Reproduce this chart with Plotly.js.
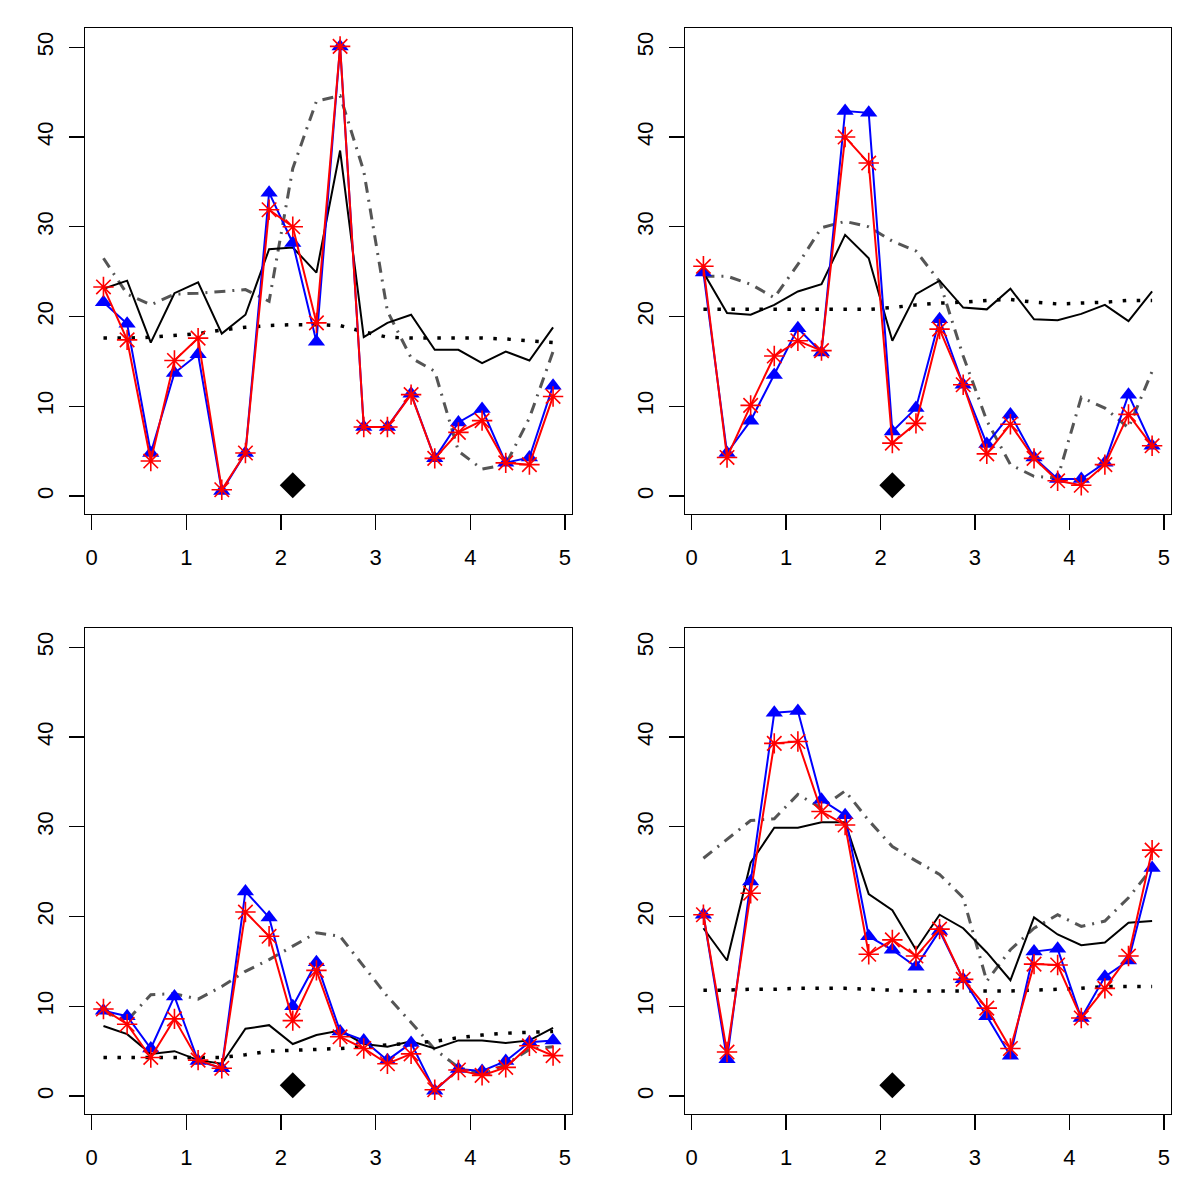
<!DOCTYPE html>
<html>
<head>
<meta charset="utf-8">
<script src="https://cdn.plot.ly/plotly-3.0.1.min.js"></script>
<style>html,body{margin:0;padding:0;background:#fff;}#chart{width:1200px;height:1200px;}</style>
</head>
<body>
<div id="chart"></div>
<script>
// x positions (shared by all panels)
const xPos = [0.125,0.375,0.625,0.875,1.125,1.375,1.625,1.875,2.125,2.375,2.625,2.875,3.125,3.375,3.625,3.875,4.125,4.375,4.625,4.875];

// Panel 1 (top-left)
const p1Blue  = [21.6,19.2,4.8,13.7,15.8,0.55,4.8,33.8,28.2,17.2,50.1,7.7,7.7,11.4,4.2,8.2,9.7,3.7,4.3,12.3];
const p1Red   = [23.3,17.4,3.9,15.1,17.6,0.7,4.8,31.9,30.0,19.3,50.1,7.7,7.7,11.3,4.2,7.1,8.4,3.7,3.5,11.1];
const p1Solid = [23.1,24.0,17.1,22.6,23.8,18.1,20.2,27.5,27.7,24.9,38.5,17.7,19.3,20.2,16.3,16.3,14.8,16.1,15.1,18.8];
const p1Dot   = [17.6,17.6,17.7,17.9,18.1,18.5,18.8,19.0,19.1,19.1,19.0,18.3,17.7,17.6,17.6,17.6,17.6,17.5,17.3,17.1];
const p1DashDot = [26.5,22.5,21.3,22.5,22.6,22.8,23.0,21.7,36.5,44.0,44.6,36.2,20.6,15.4,13.9,5.0,3.0,3.5,8.7,16.1];

// Panel 2 (top-right)
const p2Blue  = [24.9,4.8,8.4,13.5,18.7,16.0,42.9,42.7,7.2,9.8,19.7,12.4,5.8,9.1,4.3,1.9,1.9,3.7,11.3,5.6];
const p2Red   = [25.6,4.3,10.1,15.6,17.3,16.2,40.0,37.1,5.9,8.1,18.6,12.4,4.7,8.0,4.2,1.7,1.2,3.5,9.1,5.6];
const p2Solid = [24.9,20.4,20.2,21.3,22.8,23.6,29.1,26.5,17.3,22.5,24.0,21.0,20.8,23.1,19.7,19.6,20.3,21.3,19.5,22.8];
const p2Dot   = [20.8,20.8,20.8,20.8,20.8,20.8,20.8,20.8,21.0,21.3,21.5,21.6,21.8,21.9,21.6,21.4,21.5,21.6,21.8,21.8];
const p2DashDot = [24.5,24.5,23.6,22.1,25.8,29.9,30.6,30.0,28.4,27.3,23.9,15.6,8.4,3.5,2.2,2.0,11.0,9.8,7.6,13.9];

// Panel 3 (bottom-left)
const p3Blue  = [9.5,8.9,5.3,11.1,3.9,3.1,22.8,19.9,10.0,14.9,7.2,6.2,4.0,5.9,0.6,3.0,2.8,3.9,6.0,6.2];
const p3Red   = [9.7,8.0,4.3,8.6,4.0,3.1,20.5,17.8,8.4,14.0,6.6,5.3,3.6,4.7,0.7,2.9,2.3,3.2,5.6,4.5];
const p3Solid = [7.8,6.9,4.7,5.0,4.0,3.6,7.5,7.9,5.8,6.8,7.3,5.8,5.5,6.1,5.3,6.2,6.2,5.9,6.2,7.6];
const p3Dot   = [4.3,4.3,4.3,4.3,4.3,4.3,4.6,5.0,5.1,5.2,5.3,5.5,5.7,5.9,6.1,6.5,6.8,7.0,7.1,7.2];
const p3DashDot = [9.4,8.4,11.3,11.4,10.8,12.2,13.9,15.2,16.7,18.2,17.8,14.5,11.1,8.2,5.2,3.2,2.4,3.5,5.2,5.5];

// Panel 4 (bottom-right)
const p4Blue  = [20.2,4.1,23.9,42.7,42.9,33.0,31.3,17.8,16.3,14.4,18.4,13.0,8.9,4.5,16.1,16.4,8.7,13.3,15.1,25.4];
const p4Red   = [20.2,4.9,22.6,39.3,39.5,31.7,30.2,15.8,17.4,15.6,18.6,13.0,9.8,5.3,14.7,14.6,8.7,12.0,15.6,27.4];
const p4Solid = [18.7,15.1,26.0,29.9,29.9,30.5,30.5,22.5,20.7,16.3,20.2,18.7,16.0,12.9,19.9,18.0,16.8,17.1,19.3,19.5];
const p4Dot   = [11.8,11.8,11.9,11.9,12.0,12.0,12.0,11.9,11.8,11.7,11.7,11.7,11.7,11.7,11.8,11.9,12.0,12.2,12.2,12.2];
const p4DashDot = [26.5,28.6,30.7,30.9,33.6,32.1,34.0,30.7,27.8,26.2,24.7,22.1,12.8,16.3,18.7,20.2,18.9,19.5,22.1,25.4];

// Diamond marker (same in each panel)
const diamondX = [2.125];
const diamondY = [1.2];

// Tick labels
const xTicks = [0,1,2,3,4,5];
const yTicks = [0,10,20,30,40,50];

const panels = [
  {blue:p1Blue, red:p1Red, solid:p1Solid, dot:p1Dot, dd:p1DashDot},
  {blue:p2Blue, red:p2Red, solid:p2Solid, dot:p2Dot, dd:p2DashDot},
  {blue:p3Blue, red:p3Red, solid:p3Solid, dot:p3Dot, dd:p3DashDot},
  {blue:p4Blue, red:p4Red, solid:p4Solid, dot:p4Dot, dd:p4DashDot}
];

const traces = [];
panels.forEach((p, i) => {
  const xa = i === 0 ? 'x' : 'x' + (i + 1);
  const ya = i === 0 ? 'y' : 'y' + (i + 1);
  traces.push({x:xPos, y:p.dd, xaxis:xa, yaxis:ya, mode:'lines', type:'scatter',
    line:{color:'#555555', width:3, dash:'11px,7px,2px,7px'}, hoverinfo:'skip'});
  traces.push({x:xPos, y:p.dot, xaxis:xa, yaxis:ya, mode:'lines', type:'scatter',
    line:{color:'#000000', width:3.5, dash:'3.5px,10.5px'}, hoverinfo:'skip'});
  traces.push({x:xPos, y:p.solid, xaxis:xa, yaxis:ya, mode:'lines', type:'scatter',
    line:{color:'#000000', width:2}, hoverinfo:'skip'});
  traces.push({x:xPos, y:p.blue, xaxis:xa, yaxis:ya, mode:'lines+markers', type:'scatter',
    line:{color:'#0000ff', width:2}, marker:{symbol:'triangle-up', size:15, color:'#0000ff'}, hoverinfo:'skip'});
  traces.push({x:xPos, y:p.red, xaxis:xa, yaxis:ya, mode:'lines+markers', type:'scatter',
    line:{color:'#ff0000', width:2}, marker:{symbol:'asterisk-open', size:17, color:'#ff0000', line:{color:'#ff0000', width:1.6}}, hoverinfo:'skip'});
  traces.push({x:diamondX, y:diamondY, xaxis:xa, yaxis:ya, mode:'markers', type:'scatter',
    marker:{symbol:'diamond', size:20, color:'#000000'}, hoverinfo:'skip'});
});

const font = {family:'Liberation Sans, Arial, Helvetica, sans-serif', size:22, color:'#000'};
function xAxis(domain, anchor) {
  return {domain:domain, anchor:anchor, range:[-0.07, 5.075], tickvals:xTicks, ticktext:xTicks.map(String),
    showline:true, mirror:true, linecolor:'#000', linewidth:1.3, ticks:'outside', ticklen:15, tickwidth:1.3,
    tickcolor:'#000', showgrid:false, zeroline:false, tickfont:font, ticklabelstandoff:8};
}
function yAxis(domain, anchor) {
  return {domain:domain, anchor:anchor, range:[-2, 52.15], tickvals:yTicks, ticktext:yTicks.map(String),
    showline:true, mirror:true, linecolor:'#000', linewidth:1.3, ticks:'outside', ticklen:15, tickwidth:1.3,
    tickcolor:'#000', showgrid:false, zeroline:false, tickfont:font, tickangle:-90, ticklabelstandoff:7};
}
const xL = [85/1200, 572/1200], xR = [685/1200, 1171/1200];
const yT = [1-514/1200, 1-28/1200], yB = [1-1114/1200, 1-628/1200];

const layout = {
  width:1200, height:1200, margin:{l:0, r:0, t:0, b:0},
  paper_bgcolor:'#fff', plot_bgcolor:'#fff', showlegend:false, font:font,
  xaxis:xAxis(xL,'y'), yaxis:yAxis(yT,'x'),
  xaxis2:xAxis(xR,'y2'), yaxis2:yAxis(yT,'x2'),
  xaxis3:xAxis(xL,'y3'), yaxis3:yAxis(yB,'x3'),
  xaxis4:xAxis(xR,'y4'), yaxis4:yAxis(yB,'x4')
};

Plotly.newPlot('chart', traces, layout, {staticPlot:true});
</script>
</body>
</html>
